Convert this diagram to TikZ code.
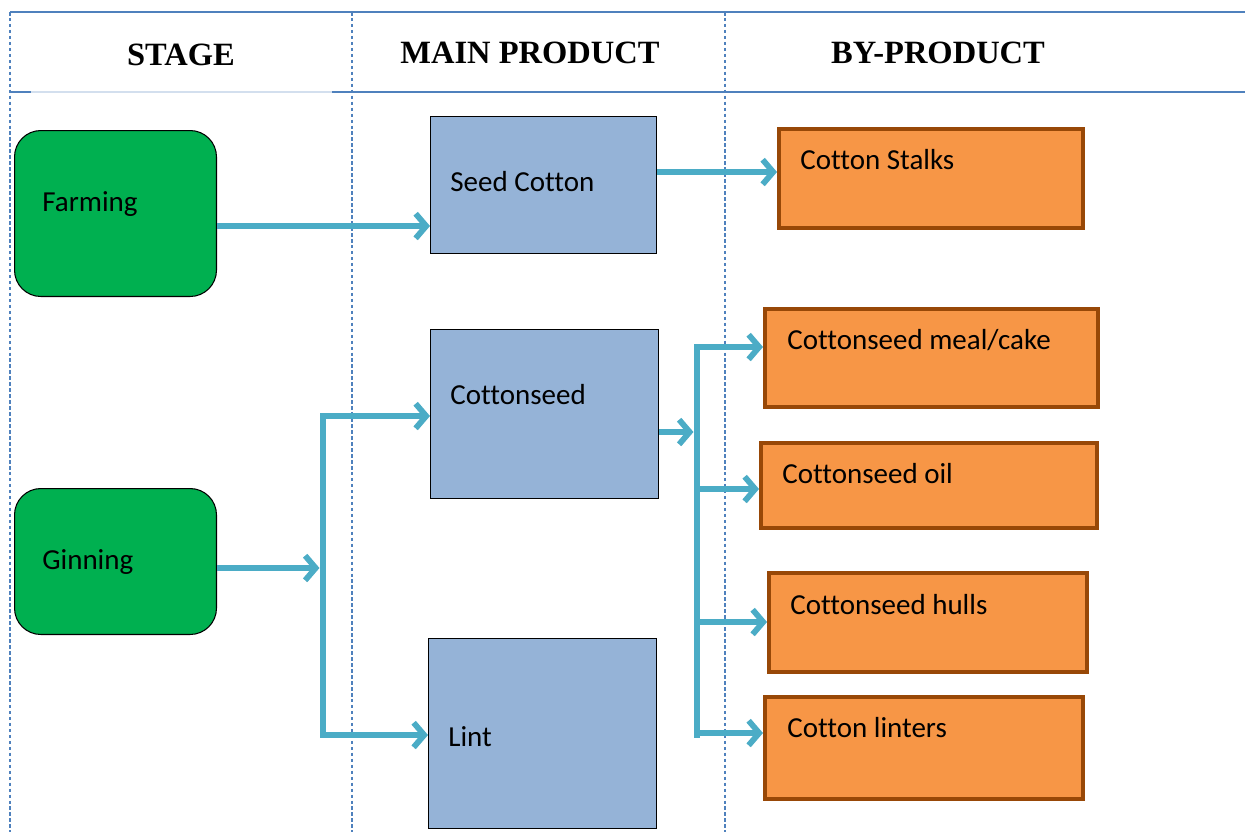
\documentclass[tikz,border=0pt]{standalone}
\usepackage{fontspec}
\setmainfont{Carlito}[Ligatures=NoCommon]
\newfontfamily\headfont{Liberation Serif}
\usetikzlibrary{arrows.meta}

\definecolor{gridblue}{HTML}{4F81BD}
\definecolor{stagegreen}{HTML}{00B050}
\definecolor{mainblue}{HTML}{95B3D7}
\definecolor{byorange}{HTML}{F79646}
\definecolor{byborder}{HTML}{984807}
\definecolor{flowcyan}{HTML}{4BACC6}

\tikzset{
  stagebox/.style={draw=black, fill=stagegreen, rounded corners=15pt, line width=0.6pt, anchor=north west, inner sep=0pt},
  mainbox/.style={draw=black, fill=mainblue, line width=0.6pt, anchor=north west, inner sep=0pt},
  bybox/.style={draw=byborder, fill=byorange, line width=2.3pt, anchor=north west, inner sep=0pt},
  boxtext/.style={anchor=west, inner sep=0pt, font=\fontsize{16.5}{19}\selectfont},
  headtext/.style={inner sep=0pt, font=\headfont\bfseries\fontsize{18.5}{22}\selectfont},
  flowshadow/.style={preaction={draw=black!22, transform canvas={shift={(0.7pt,-0.9pt)}}}},
  flow/.style={draw=flowcyan, line width=3.3pt, flowshadow, -{Straight Barb[length=6pt,width=14pt]}},
  bar/.style={draw=flowcyan, line width=3.3pt, line cap=rect, flowshadow},
  gridline/.style={draw=gridblue, line width=0.8pt},
  griddash/.style={gridline, dash pattern=on 2pt off 1.4pt},
}

\begin{document}
\begin{tikzpicture}[x=0.02cm, y=-0.02cm]
  \useasboundingbox (0,0) rectangle (1245,832);

  % Table frame: top rule, header rule and the dashed column lines.
  \draw[gridline] (10,12) -- (1245,12);
  \draw[gridline] (10,92) -- (31,92);
  \draw[draw=gridblue!25, line width=0.8pt] (31,92) -- (332,92);
  \draw[gridline] (332,92) -- (1245,92);
  \foreach \xc in {10,352,725}
    \draw[griddash] (\xc,12) -- (\xc,832);

  % Column headers.
  \node[headtext] (hstage) at (181,55) {STAGE};
  \node[headtext] (hmain) at (530,53) {MAIN PRODUCT};
  \node[headtext] (hby) at (938,53) {BY-PRODUCT};

  % Stages.
  \node[stagebox, minimum width=4.04cm, minimum height=3.32cm] (farming) at (14,130) {};
  \node[boxtext] (farmingtxt) at (42,204) {Farming};
  \node[stagebox, minimum width=4.04cm, minimum height=2.92cm] (ginning) at (14,488) {};
  \node[boxtext] (ginningtxt) at (42,562) {Ginning};

  % Main products.
  \node[mainbox, minimum width=4.52cm, minimum height=2.74cm] (seed) at (430,116) {};
  \node[boxtext] (seedtxt) at (450,182) {Seed Cotton};
  \node[mainbox, minimum width=4.56cm, minimum height=3.38cm] (cseed) at (430,329) {};
  \node[boxtext] (cseedtxt) at (450,395) {Cottonseed};
  \node[mainbox, minimum width=4.56cm, minimum height=3.80cm] (lint) at (428,638) {};
  \node[boxtext] (linttxt) at (448,737) {Lint};

  % By-products.
  \node[bybox, minimum width=6.08cm, minimum height=1.98cm] (stalks) at (777,127) {};
  \node[boxtext] (stalkstxt) at (800,160) {Cotton Stalks};
  \node[bybox, minimum width=6.66cm, minimum height=1.96cm] (meal) at (763,307) {};
  \node[boxtext] (mealtxt) at (787,340) {Cottonseed meal/cake};
  \node[bybox, minimum width=6.72cm, minimum height=1.70cm] (oil) at (759,441) {};
  \node[boxtext] (oiltxt) at (782,474) {Cottonseed oil};
  \node[bybox, minimum width=6.36cm, minimum height=1.98cm] (hulls) at (767,571) {};
  \node[boxtext] (hullstxt) at (790,605) {Cottonseed hulls};
  \node[bybox, minimum width=6.36cm, minimum height=2.04cm] (linters) at (763,695) {};
  \node[boxtext] (linterstxt) at (787,728) {Cotton linters};

  % Farming gives seed cotton and stalks.
  \draw[flow] (farming.east |- 0,226) -- (seed.west |- 0,226);
  \draw[flow] (seed.east |- 0,172) -- (stalks.west |- 0,172);

  % Ginning splits into cottonseed and lint.
  \coordinate (gsplit) at (323,568);
  \coordinate (gtop) at (323,416);
  \coordinate (gbot) at (323,735);
  \draw[bar] (gtop) -- (gbot);
  \draw[flow] (ginning.east |- gsplit) -- ([xshift=-2]gsplit);
  \draw[flow] (gtop) -- (cseed.west |- gtop);
  \draw[flow] (gbot) -- (lint.west |- gbot);

  % Cottonseed splits into four by-products.
  \coordinate (csplit) at (697,432);
  \coordinate (ctop) at (697,347);
  \coordinate (cbot) at (697,735);
  \draw[bar] (ctop) -- (cbot);
  \draw[flow] (cseed.east |- csplit) -- ([xshift=-2]csplit);
  \draw[flow] (ctop) -- (meal.west |- ctop);
  \draw[flow] (697,489) -- (oil.west |- 0,489);
  \draw[flow] (697,622) -- (hulls.west |- 0,622);
  \draw[flow] (697,733) -- (linters.west |- 0,733);
\end{tikzpicture}
\end{document}
